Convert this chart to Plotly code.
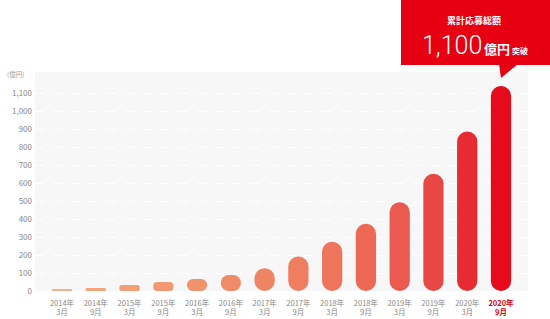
import plotly.graph_objects as go

# ---- data ----
periods = ["2014年<br>3月", "2014年<br>9月", "2015年<br>3月", "2015年<br>9月",
           "2016年<br>3月", "2016年<br>9月", "2017年<br>3月", "2017年<br>9月",
           "2018年<br>3月", "2018年<br>9月", "2019年<br>3月", "2019年<br>9月",
           "2020年<br>3月", "2020年<br>9月"]
totals = [8, 17, 33, 50, 67, 89, 127, 192, 274, 374, 493, 652, 887, 1140]
y_ticks = [0, 100, 200, 300, 400, 500, 600, 700, 800, 900, 1000, 1100]
y_tick_labels = ["0", "100", "200", "300", "400", "500", "600", "700",
                 "800", "900", "1,000", "1,100"]
unit_label = "(億円)"
callout_title = "累計応募総額"
callout_value = "1,100"
callout_unit = "億円"
callout_suffix = "突破"

# ---- style ----
bar_colors = ["#f6ae88", "#f4a37c", "#f39e77", "#f29873", "#f1926d", "#f08b68",
              "#ef8464", "#ef7d60", "#ee745b", "#ed6955", "#eb5a4e", "#e94745",
              "#e72b33", "#e50a1c"]
FONT = "Noto Sans CJK JP"
W, H = 550, 319
ML, MR, MT, MB = 35, 22, 72, 28
plot_h = H - MT - MB
plot_w = W - ML - MR
Y_MAX = 1218


def py(pix):  # pixel y -> paper y
    return (H - MB - pix) / plot_h


def px(pix):  # pixel x -> paper x
    return (pix - ML) / plot_w


xs = list(range(len(periods)))
tick_text = list(periods[:-1]) + [
    '<b><span style="color:#e60012">' + periods[-1] + "</span></b>"]

fig = go.Figure()
# a bar with an explicit base gets both ends rounded -> pill shape
fig.add_trace(go.Bar(
    x=xs, y=totals, base=[0] * len(totals),
    width=0.6, marker=dict(color=bar_colors, cornerradius=10, line=dict(width=0)),
    hoverinfo="skip", showlegend=False))

fig.update_layout(
    width=W, height=H, margin=dict(l=ML, r=MR, t=MT, b=MB),
    paper_bgcolor="white", plot_bgcolor="#f7f7f7",
    barmode="overlay", showlegend=False,
    font=dict(family=FONT, color="#888888", size=8),
    xaxis=dict(range=[-0.8, len(periods) - 0.2], tickvals=xs, ticktext=tick_text,
               showgrid=False, zeroline=False, showline=False, ticks="",
               ticklabelstandoff=6, automargin=False,
               tickfont=dict(size=7.5, color="#888888"), fixedrange=True),
    yaxis=dict(range=[0, Y_MAX], tickvals=y_ticks, ticktext=y_tick_labels,
               showgrid=True, gridcolor="white", griddash="dash", gridwidth=1,
               zeroline=False, showline=False, ticks="", ticklabelstandoff=2,
               automargin=False,
               tickfont=dict(size=8, color="#888888"), fixedrange=True),
    shapes=[
        dict(type="rect", xref="paper", yref="paper",
             x0=px(401), x1=px(550), y0=py(65), y1=py(0),
             fillcolor="#e60012", line=dict(width=0), layer="above"),
        dict(type="path", xref="paper", yref="paper",
             path=f"M {px(499)} {py(64)} L {px(518)} {py(64)} L {px(501)} {py(78)} Z",
             fillcolor="#e60012", line=dict(width=0), layer="above"),
    ],
    annotations=[
        dict(text=unit_label, xref="paper", yref="paper", x=px(26), y=py(74),
             xanchor="right", yanchor="middle", showarrow=False,
             font=dict(size=6.5, color="#999999")),
        dict(text=f"<b>{callout_title}</b>", xref="paper", yref="paper",
             x=px(474), y=py(20), xanchor="center", yanchor="middle",
             showarrow=False, font=dict(size=9, color="white")),
        dict(text=(f'<span style="font-size:25px;font-family:Roboto;font-weight:300">'
                   f'{callout_value}</span> '
                   f'<b><span style="font-size:13px">{callout_unit}</span></b>'
                   f'<b><span style="font-size:8px"> {callout_suffix}</span></b>'),
             xref="paper", yref="paper", x=px(475), y=py(46),
             xanchor="center", yanchor="middle", showarrow=False,
             font=dict(color="white", family=FONT)),
    ],
)

fig.write_html("out.html")
